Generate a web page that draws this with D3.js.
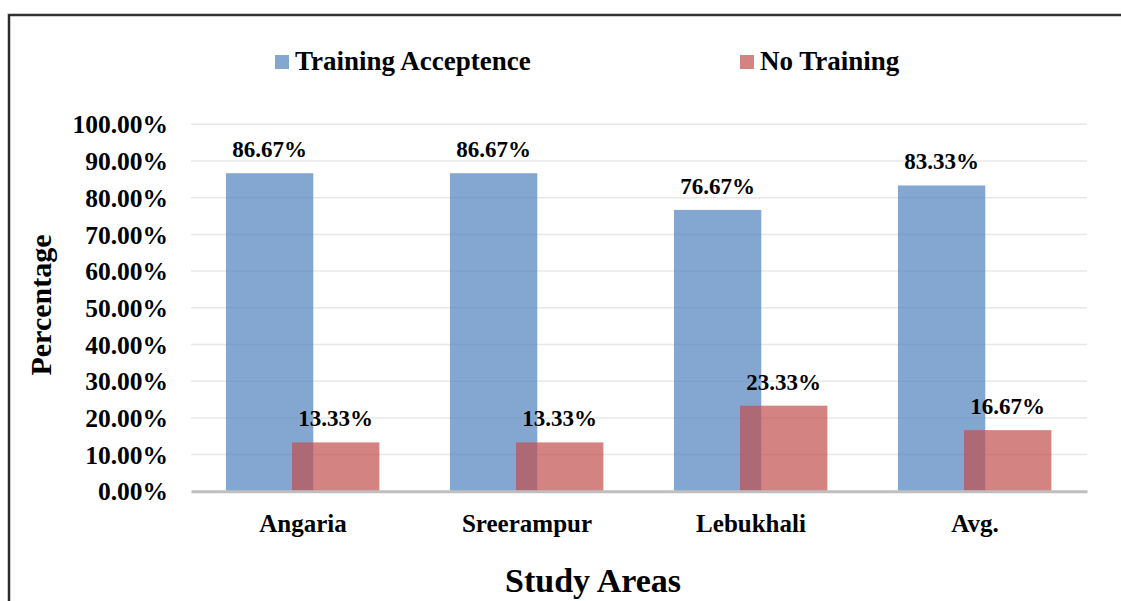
<!DOCTYPE html>
<html>
<head>
<meta charset="utf-8">
<script src="https://cdn.jsdelivr.net/npm/d3@7"></script>
<style>
  body { margin: 0; background: #fff; }
  svg { display: block; font-family: "Liberation Serif", "Times New Roman", serif; font-weight: bold; }
</style>
</head>
<body>
<div id="chart"></div>
<script>
// data
var areas = ['Angaria', 'Sreerampur', 'Lebukhali', 'Avg.'];
var seriesNames = ['Training Acceptence', 'No Training'];
var acceptValues = [0.8667, 0.8667, 0.7667, 0.8333];
var noTrainingValues = [0.1333, 0.1333, 0.2333, 0.1667];
var yTicks = [0, 0.1, 0.2, 0.3, 0.4, 0.5, 0.6, 0.7, 0.8, 0.9, 1.0];
var colors = ['#4F81BD', '#C0504D'];

var width = 1121, height = 601;
var plot = { left: 191, right: 1087, top: 124.3, bottom: 491.3 };

var svg = d3.select('#chart').append('svg')
    .attr('width', width)
    .attr('height', height);

// outer frame (only top and left edges are inside the picture)
svg.append('path')
    .attr('d', 'M9,' + (height + 5) + 'V15H' + (width + 5))
    .attr('fill', 'none')
    .attr('stroke', '#999')
    .attr('stroke-width', 3);
svg.append('path')
    .attr('d', 'M9,' + (height + 5) + 'V15H' + (width + 5))
    .attr('fill', 'none')
    .attr('stroke', '#111')
    .attr('stroke-width', 1.6);

var x = d3.scaleBand()
    .domain(areas)
    .range([plot.left, plot.right])
    .padding(0);

var y = d3.scaleLinear()
    .domain([0, 1])
    .range([plot.bottom, plot.top]);

// gridlines
svg.append('g')
    .selectAll('line')
    .data(yTicks.slice(1))
    .enter().append('line')
    .attr('x1', plot.left)
    .attr('x2', plot.right)
    .attr('y1', function (d) { return y(d); })
    .attr('y2', function (d) { return y(d); })
    .attr('stroke', '#e8e8e8')
    .attr('stroke-width', 1.5);

// y axis labels
var yAxis = d3.axisLeft(y)
    .tickValues(yTicks)
    .tickFormat(d3.format('.2%'))
    .tickSize(0)
    .tickPadding(23);

var yG = svg.append('g')
    .attr('transform', 'translate(' + plot.left + ',0)')
    .call(yAxis);
yG.select('.domain').remove();
yG.selectAll('text')
    .attr('fill', '#000')
    .style('font-size', '25.5px')
    .style('font-family', '"Liberation Serif", serif')
    .style('font-weight', 'bold')
    .attr('dy', '0.34em');

// bars: blue on the left of the band, red overlapping it on the right
var bw = x.bandwidth();
var barW = bw * 0.39;
var offsets = [bw * 0.156, bw * 0.451];
var seriesData = [acceptValues, noTrainingValues];

seriesData.forEach(function (vals, s) {
    svg.append('g')
        .selectAll('rect')
        .data(vals)
        .enter().append('rect')
        .attr('x', function (d, i) { return x(areas[i]) + offsets[s]; })
        .attr('width', barW)
        .attr('y', function (d) { return y(d); })
        .attr('height', function (d) { return y(0) - y(d); })
        .attr('fill', colors[s])
        .attr('fill-opacity', 0.7);
});

// x axis baseline
var xAxis = d3.axisBottom(x).tickSize(0).tickPadding(23);
var xG = svg.append('g')
    .attr('transform', 'translate(0,' + plot.bottom + ')')
    .call(xAxis);
xG.select('.domain')
    .attr('stroke', '#bfbfbf')
    .attr('stroke-width', 3);
xG.selectAll('text')
    .attr('fill', '#000')
    .style('font-size', '25px')
    .style('font-family', '"Liberation Serif", serif')
    .style('font-weight', 'bold');

// value labels
seriesData.forEach(function (vals, s) {
    svg.append('g')
        .selectAll('text')
        .data(vals)
        .enter().append('text')
        .attr('x', function (d, i) { return x(areas[i]) + offsets[s] + barW / 2; })
        .attr('y', function (d) { return y(d) - 16; })
        .attr('text-anchor', 'middle')
        .style('font-size', '23px')
        .text(function (d) { return d3.format('.2%')(d); });
});

// legend
var legendX = [275, 740];
var legend = svg.append('g')
    .selectAll('g')
    .data(seriesNames)
    .enter().append('g')
    .attr('transform', function (d, i) { return 'translate(' + legendX[i] + ',55)'; });
legend.append('rect')
    .attr('width', 14)
    .attr('height', 14)
    .attr('fill', function (d, i) { return colors[i]; })
    .attr('fill-opacity', 0.7);
legend.append('text')
    .attr('x', 20)
    .attr('y', 14.5)
    .style('font-size', '27px')
    .text(function (d) { return d; });

// axis titles
svg.append('text')
    .attr('transform', 'translate(51,305) rotate(-90)')
    .attr('text-anchor', 'middle')
    .style('font-size', '30px')
    .text('Percentage');

svg.append('text')
    .attr('x', 593)
    .attr('y', 592)
    .attr('text-anchor', 'middle')
    .style('font-size', '34px')
    .text('Study Areas');
</script>
</body>
</html>
